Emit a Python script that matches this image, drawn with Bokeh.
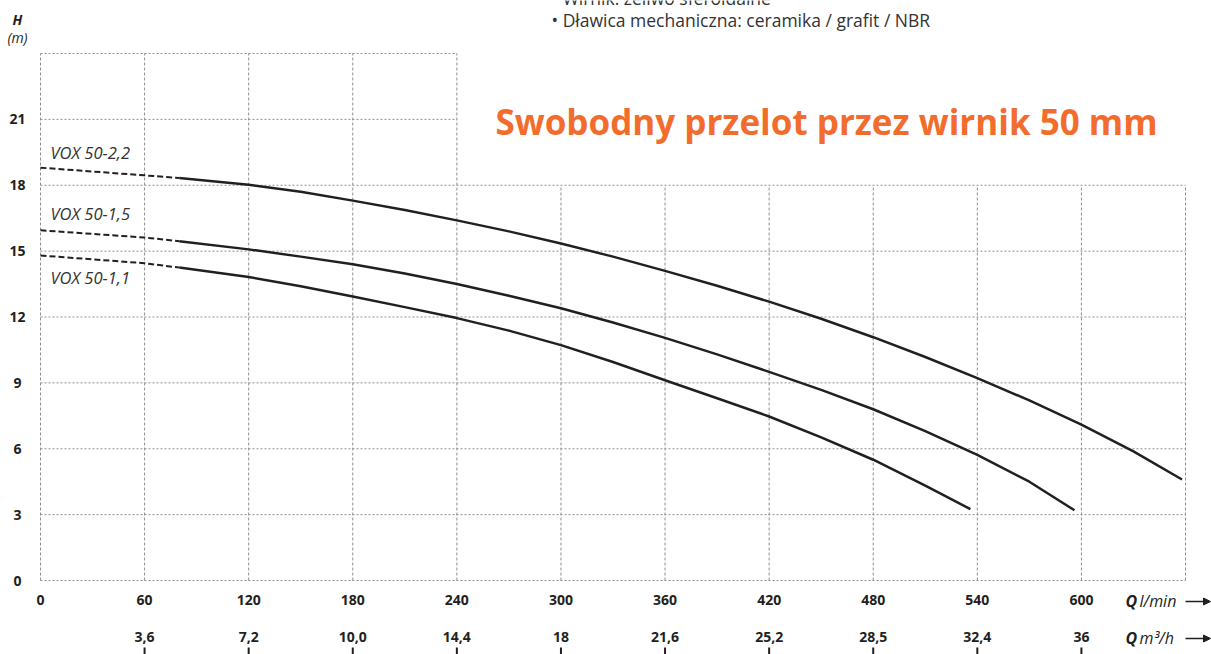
from bokeh.plotting import figure
from bokeh.models import Range1d, Label, Arrow, NormalHead
from bokeh.core.properties import value
from bokeh.embed import file_html
from bokeh.resources import INLINE

# ---- data ----
h_ticks = [0, 3, 6, 9, 12, 15, 18, 21]
q_lmin_ticks = [0, 60, 120, 180, 240, 300, 360, 420, 480, 540, 600]
q_m3h_ticks = [60, 120, 180, 240, 300, 360, 420, 480, 540, 600]
q_m3h_labels = ["3,6", "7,2", "10,0", "14,4", "18", "21,6", "25,2", "28,5", "32,4", "36"]

vox22_q_dash = [0, 60, 80]
vox22_h_dash = [18.8, 18.45, 18.33]
vox22_q = [80, 120, 150, 180, 210, 240, 270, 300, 330, 360, 390, 420, 450, 480, 510, 540, 570, 600, 630, 658]
vox22_h = [18.33, 18.02, 17.7, 17.3, 16.87, 16.4, 15.9, 15.35, 14.75, 14.1, 13.42, 12.7, 11.92, 11.08,
           10.18, 9.22, 8.2, 7.1, 5.88, 4.6]

vox15_q_dash = [0, 60, 80]
vox15_h_dash = [15.95, 15.62, 15.45]
vox15_q = [80, 120, 150, 180, 210, 240, 270, 300, 330, 360, 390, 420, 450, 480, 510, 540, 570, 596]
vox15_h = [15.45, 15.08, 14.75, 14.4, 13.98, 13.5, 12.97, 12.4, 11.75, 11.05, 10.3, 9.5, 8.68, 7.8,
           6.8, 5.72, 4.5, 3.2]

vox11_q_dash = [0, 60, 80]
vox11_h_dash = [14.8, 14.45, 14.25]
vox11_q = [80, 120, 150, 180, 210, 240, 270, 300, 330, 360, 390, 420, 450, 480, 510, 536]
vox11_h = [14.25, 13.82, 13.4, 12.93, 12.45, 11.95, 11.38, 10.72, 9.95, 9.12, 8.3, 7.47, 6.52, 5.5,
           4.32, 3.25]

curve_names = ["VOX 50-2,2", "VOX 50-1,5", "VOX 50-1,1"]
title_text = "Swobodny przelot przez wirnik 50 mm"
spec_lines = ["• Wirnik: żeliwo sferoidalne", "• Dławica mechaniczna: ceramika / grafit / NBR"]

# ---- layout constants (pixels) ----
W, H = 1211, 654
Q_MAX, H_MAX = 660, 24
CUT_Q, CUT_H = 240, 18          # title cut-out of the grid
PLOT_L, PLOT_R, PLOT_T, PLOT_B = 40, 1185, 53, 580
PX_Q = (PLOT_R - PLOT_L) / Q_MAX
PX_H = (PLOT_B - PLOT_T) / H_MAX

def qx(px):   # page x pixel -> Q
    return (px - PLOT_L) / PX_Q

def hy(py):   # page y pixel -> H
    return (PLOT_B - py) / PX_H

INK = "#231f20"
GRID = "#8f8f8f"
ORANGE = "#f26d2d"
FONT = "Open Sans"

p = figure(width=W, height=H, x_range=Range1d(qx(0), qx(W)), y_range=Range1d(hy(H), hy(0)),
           output_backend="svg", toolbar_location=None,
           x_axis_location=None, y_axis_location=None, min_border=0)
p.outline_line_color = None
p.xgrid.visible = False
p.ygrid.visible = False

# ---- grid with cut-out ----
grid_h = h_ticks + [H_MAX]
hx1 = [Q_MAX if h <= CUT_H else CUT_Q for h in grid_h]
p.segment(x0=[0] * len(grid_h), y0=grid_h, x1=hx1, y1=grid_h,
          line_color=GRID, line_width=1, line_dash="2 2")
grid_q = q_lmin_ticks + [Q_MAX]
vy1 = [H_MAX if q <= CUT_Q else CUT_H for q in grid_q]
p.segment(x0=grid_q, y0=[0] * len(grid_q), x1=grid_q, y1=vy1,
          line_color=GRID, line_width=1, line_dash="3 2")

# ---- curves ----
for qd, hd, qs, hs in [(vox22_q_dash, vox22_h_dash, vox22_q, vox22_h),
                       (vox15_q_dash, vox15_h_dash, vox15_q, vox15_h),
                       (vox11_q_dash, vox11_h_dash, vox11_q, vox11_h)]:
    p.line(qd, hd, line_color=INK, line_width=2, line_dash="6 3")
    p.line(qs, hs, line_color=INK, line_width=2.5, line_join="round")

# ---- tick labels ----
p.text(x=[qx(17)] * len(h_ticks), y=h_ticks, text=[str(h) for h in h_ticks],
       text_font=value(FONT), text_font_style="bold", text_font_size="14px",
       text_color=INK, text_align="center", text_baseline="middle")
p.text(x=q_lmin_ticks, y=[hy(599)] * len(q_lmin_ticks), text=[str(q) for q in q_lmin_ticks],
       text_font=value(FONT), text_font_style="bold", text_font_size="14px",
       text_color=INK, text_align="center", text_baseline="middle")
p.text(x=q_m3h_ticks, y=[hy(636)] * len(q_m3h_ticks), text=q_m3h_labels,
       text_font=value(FONT), text_font_style="bold", text_font_size="14px",
       text_color=INK, text_align="center", text_baseline="middle")
p.segment(x0=q_m3h_ticks, y0=[hy(647)] * len(q_m3h_ticks), x1=q_m3h_ticks, y1=[hy(654)] * len(q_m3h_ticks),
          line_color=INK, line_width=2)

# ---- texts ----
def lab(x, y, text, size, style="normal", color=INK, align="left"):
    p.add_layout(Label(x=x, y=y, text=text, text_font=FONT, text_font_size=size,
                       text_font_style=style, text_color=color, text_align=align,
                       text_baseline="middle"))

lab(qx(17), hy(19), "H", "14px", "bold italic", align="center")
lab(qx(17), hy(37), "(m)", "14px", "italic", align="center")

lab(qx(50), hy(152), curve_names[0], "16.5px", "italic", color="#333333")
lab(qx(50), hy(213), curve_names[1], "16.5px", "italic", color="#333333")
lab(qx(50), hy(277), curve_names[2], "16.5px", "italic", color="#333333")

lab(qx(826), hy(121), title_text, "35px", "bold", color=ORANGE, align="center")

lab(qx(551), hy(-3), spec_lines[0], "17.5px", color="#333333")
lab(qx(551), hy(19), spec_lines[1], "17.5px", color="#333333")

lab(qx(1125), hy(600), "Q", "16px", "bold italic")
lab(qx(1139), hy(600), "l/min", "16px", "italic")
lab(qx(1125), hy(637), "Q", "16px", "bold italic")
lab(qx(1139), hy(637), "m³/h", "16px", "italic")

for py in (601, 638):
    p.add_layout(Arrow(end=NormalHead(size=7, fill_color=INK, line_color=INK),
                       x_start=qx(1185), y_start=hy(py), x_end=qx(1210), y_end=hy(py),
                       line_color=INK, line_width=1.5))

open("out.html", "w").write(file_html(p, INLINE))
